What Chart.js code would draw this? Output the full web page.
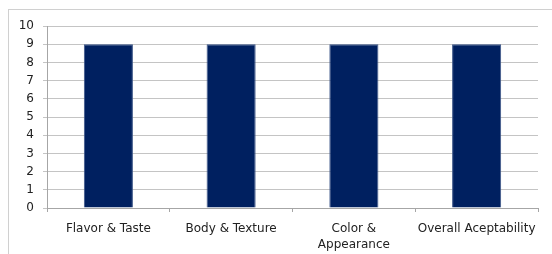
<!DOCTYPE html>
<html>
<head>
<meta charset="utf-8">
<script src="https://cdn.jsdelivr.net/npm/chart.js@4.4.0/dist/chart.umd.min.js"></script>
<style>
  html, body { margin: 0; padding: 0; background: #fff; overflow: hidden; }
  #frame {
    position: absolute; left: 8px; top: 9px; width: 600px; height: 300px;
    border-top: 1px solid #d0d0d0; border-left: 1px solid #d0d0d0;
  }
  #scoreChart { position: absolute; left: 0; top: 0; }
</style>
</head>
<body>
<div id="frame"></div>
<canvas id="scoreChart" width="552" height="254"></canvas>
<script>
// Datos de la gráfica
const categorias = ['Flavor & Taste', 'Body & Texture', ['Color &', 'Appearance'], 'Overall Aceptability'];
const puntajes = [9, 9, 9, 9];
const ejeYMin = 0;
const ejeYMax = 10;
const ejeYPaso = 1;

const ctx = document.getElementById('scoreChart').getContext('2d');
const chart = new Chart(ctx, {
    type: 'bar',
    data: {
        labels: categorias,
        datasets: [{
            data: puntajes,
            backgroundColor: '#002060',
            borderColor: '#3c5688',
            borderWidth: 1,
            categoryPercentage: 1,
            barPercentage: 0.4
        }]
    },
    options: {
        responsive: false,
        animation: false,
        layout: { padding: { left: 0, top: 26, right: 14, bottom: 0 } },
        plugins: { legend: { display: false }, tooltip: { enabled: false } },
        scales: {
            x: {
                grid: { offset: true, drawOnChartArea: false, tickLength: 4, color: '#a6a6a6' },
                border: { color: '#a6a6a6' },
                ticks: {
                    color: '#222222', padding: 8, maxRotation: 0, autoSkip: false,
                    font: { family: 'DejaVu Sans', size: 12, lineHeight: 1.4 }
                },
                afterFit: (scale) => { scale.height = 46; }
            },
            y: {
                min: ejeYMin,
                max: ejeYMax,
                grid: { color: '#c4c4c4', tickLength: 4 },
                border: { color: '#a6a6a6' },
                ticks: {
                    stepSize: ejeYPaso, autoSkip: false,
                    color: '#222222', padding: 9,
                    font: { family: 'DejaVu Sans', size: 12 }
                },
                afterFit: (scale) => { scale.width = 47; }
            }
        }
    }
});
</script>
</body>
</html>
